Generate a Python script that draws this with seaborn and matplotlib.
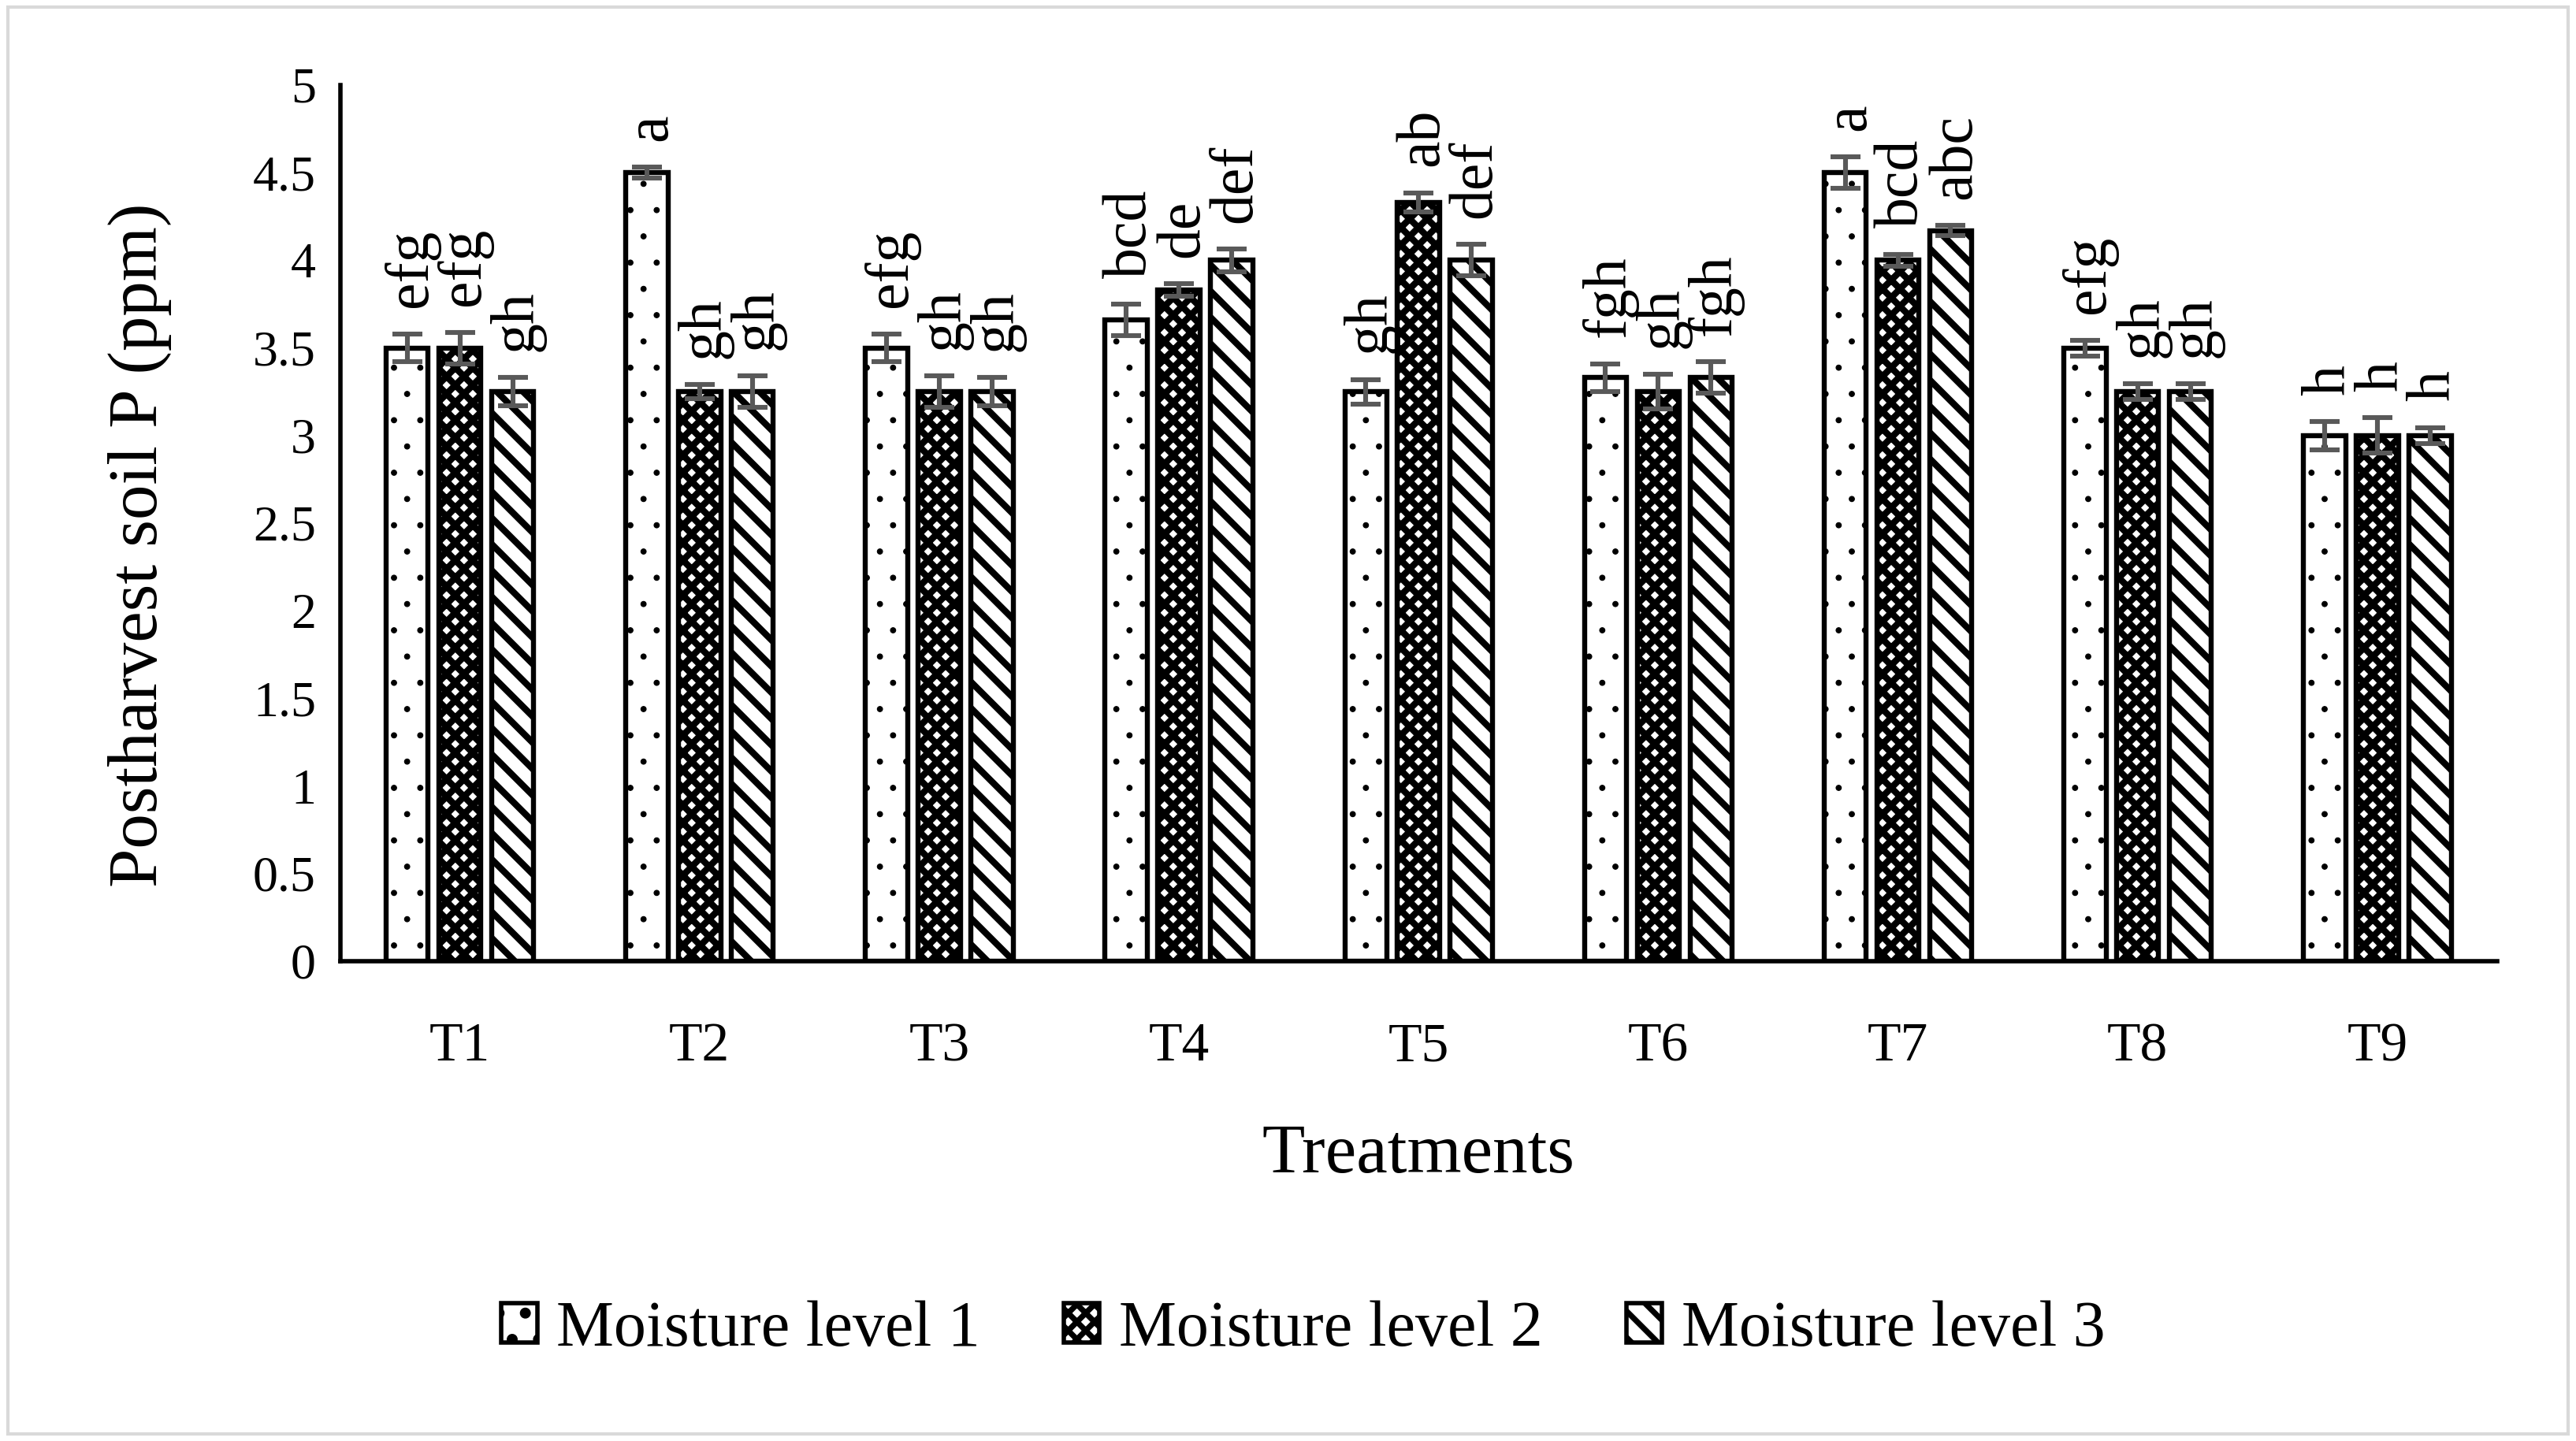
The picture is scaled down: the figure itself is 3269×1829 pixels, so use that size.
import matplotlib
matplotlib.use("Agg")
import matplotlib.pyplot as plt
from matplotlib.patches import Patch, Rectangle
import pandas as pd
import seaborn as sns

treatments = ["T1", "T2", "T3", "T4", "T5", "T6", "T7", "T8", "T9"]
levels = ["Moisture level 1", "Moisture level 2", "Moisture level 3"]

level1_mean = [3.50, 4.50, 3.50, 3.66, 3.25, 3.33, 4.50, 3.50, 3.00]
level2_mean = [3.50, 3.25, 3.25, 3.83, 4.33, 3.25, 4.00, 3.25, 3.00]
level3_mean = [3.25, 3.25, 3.25, 4.00, 4.00, 3.33, 4.17, 3.25, 3.00]

level1_err = [0.08, 0.03, 0.08, 0.09, 0.07, 0.08, 0.09, 0.045, 0.08]
level2_err = [0.09, 0.04, 0.09, 0.035, 0.055, 0.10, 0.035, 0.045, 0.10]
level3_err = [0.08, 0.09, 0.08, 0.065, 0.09, 0.09, 0.03, 0.045, 0.045]

level1_letters = ["efg", "a", "efg", "bcd", "gh", "fgh", "a", "efg", "h"]
level2_letters = ["efg", "gh", "gh", "de", "ab", "gh", "bcd", "gh", "h"]
level3_letters = ["gh", "gh", "gh", "def", "def", "fgh", "abc", "gh", "h"]

hatches = [".", "xxx", "\\\\"]
hatch_widths = [0.4, 3.0, 3.0]

means = [level1_mean, level2_mean, level3_mean]
errs = [level1_err, level2_err, level3_err]
letters = [level1_letters, level2_letters, level3_letters]

df = pd.DataFrame({
    "Treatment": treatments * 3,
    "Level": [lv for lv in levels for _ in treatments],
    "Value": level1_mean + level2_mean + level3_mean,
})

sns.set_style("white")
plt.rcParams["font.family"] = ["Liberation Serif", "DejaVu Serif"]
plt.rcParams["text.color"] = "black"
plt.rcParams["axes.labelcolor"] = "black"
plt.rcParams["xtick.color"] = "black"
plt.rcParams["ytick.color"] = "black"
plt.rcParams["hatch.linewidth"] = 2.6

per_patch_hatch_lw = hasattr(Patch, "set_hatch_linewidth")

fig = plt.figure(figsize=(16.345, 9.145), dpi=200)
ax = fig.add_axes([0.132, 0.333, 0.8374, 0.608])

sns.barplot(data=df, x="Treatment", y="Value", hue="Level",
            order=treatments, hue_order=levels, palette=["white"] * 3,
            errorbar=None, width=0.66, gap=0.2, edgecolor="black",
            linewidth=2.3, legend=False, ax=ax, zorder=2)

# Hatches, error bars and significance letters
bar_groups = list(ax.containers)
for i, container in enumerate(bar_groups):
    xs = []
    for bar in container:
        bar.set_hatch(hatches[i])
        if per_patch_hatch_lw:
            bar.set_hatch_linewidth(hatch_widths[i])
        bar.set_facecolor("white")
        bar.set_edgecolor("black")
        xs.append(bar.get_x() + bar.get_width() / 2)
    ax.errorbar(xs, means[i], yerr=errs[i], fmt="none", ecolor="#595959",
                elinewidth=2.2, capsize=7, capthick=2.2, zorder=3)
    for x, m, e, lab in zip(xs, means[i], errs[i], letters[i]):
        ax.annotate(lab, (x, m + e), xytext=(2, 12), textcoords="offset points",
                    rotation=90, ha="center", va="bottom", fontsize=28)

ax.set_xlim(-0.5, 8.5)
ax.set_ylim(0, 5)
ax.set_yticks([0, 0.5, 1, 1.5, 2, 2.5, 3, 3.5, 4, 4.5, 5])
ax.set_yticklabels(["0", "0.5", "1", "1.5", "2", "2.5", "3", "3.5", "4", "4.5", "5"])
ax.tick_params(axis="y", length=0, pad=11, labelsize=23)
ax.tick_params(axis="x", length=0, pad=28, labelsize=25)

ax.set_xlabel("Treatments", fontsize=32)
ax.set_ylabel("Postharvest soil P (ppm)", fontsize=32)
ax.xaxis.set_label_coords(0.5, -0.185)
ax.yaxis.set_label_coords(-0.078, 0.475)

for side in ["top", "right"]:
    ax.spines[side].set_visible(False)
for side in ["left", "bottom"]:
    ax.spines[side].set_color("black")
    ax.spines[side].set_linewidth(2.0)

handles = []
for h, hw in zip(hatches, hatch_widths):
    p = Patch(facecolor="white", edgecolor="black", hatch=h, linewidth=2.0)
    if per_patch_hatch_lw:
        p.set_hatch_linewidth(hw)
    handles.append(p)
fig.legend(handles, levels, loc="center", bbox_to_anchor=(0.506, 0.077),
           ncol=3, frameon=False, fontsize=29.5, handlelength=0.55,
           handleheight=0.55, handletextpad=0.3, columnspacing=1.3)

fig.add_artist(Rectangle((0.003, 0.005), 0.994, 0.99, transform=fig.transFigure,
                         fill=False, edgecolor="#d9d9d9", linewidth=1.5))

fig.savefig("out.png", dpi=200)
